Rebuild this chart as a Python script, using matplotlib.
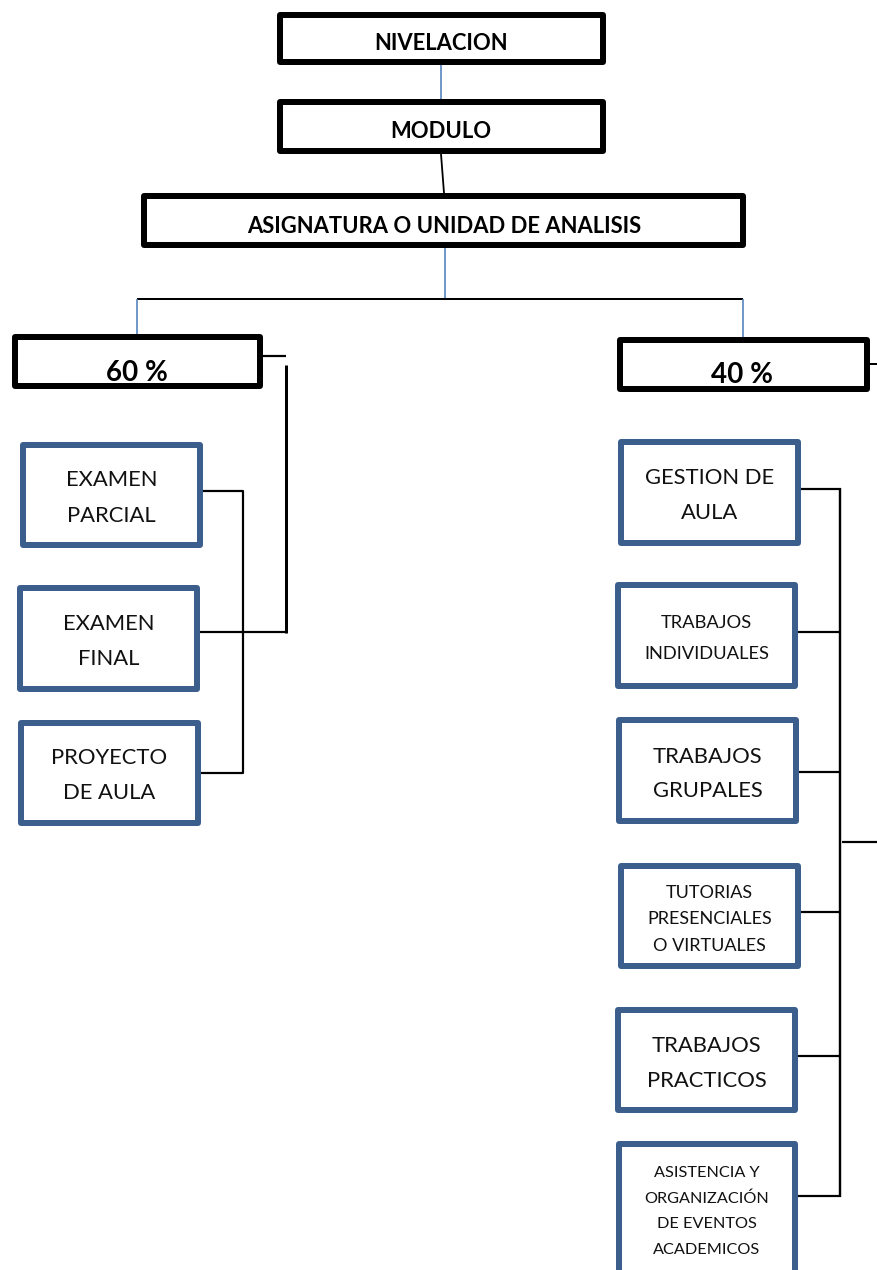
import matplotlib
matplotlib.use("Agg")
import matplotlib.pyplot as plt
from matplotlib.patches import Rectangle

plt.rcParams['font.family'] = ['Lato', 'DejaVu Sans']

# ---- content ----
header_labels = ["NIVELACION", "MODULO", "ASIGNATURA O UNIDAD DE ANALISIS"]
weight_labels = ["60 %", "40 %"]
left_labels = ["EXAMEN\nPARCIAL", "EXAMEN\nFINAL", "PROYECTO\nDE AULA"]
right_labels = ["GESTION DE\nAULA", "TRABAJOS\nINDIVIDUALES", "TRABAJOS\nGRUPALES",
                "TUTORIAS\nPRESENCIALES\nO VIRTUALES", "TRABAJOS\nPRACTICOS",
                "ASISTENCIA Y\nORGANIZACIÓN\nDE EVENTOS\nACADEMICOS"]

# ---- layout (pixel coords, y down) ----
W, H = 877, 1270
header_boxes = [(280, 15, 603, 62), (280, 102, 603, 151), (144, 196, 743, 245)]
header_text = [(441, 50), (441, 138), (444, 233)]
header_sizes = [15.8, 15.8, 15.8]
weight_boxes = [(15, 337, 260, 386), (620, 340, 867, 389)]
weight_text = [(137, 381), (742, 383)]

left_boxes = [(23, 445, 200, 545), (20, 588, 197, 689), (21, 723, 198, 823)]
left_first_base = [486, 630, 764]
left_sizes = [15.8, 15.8, 15.8]
left_spacing = [36, 35, 35]

right_boxes = [(621, 442, 798, 543), (618, 585, 795, 686), (619, 720, 796, 821),
               (621, 866, 798, 966), (618, 1010, 795, 1110), (619, 1144, 795, 1290)]
right_conn_y = [489, 632, 772, 912, 1056, 1196]
right_first_base = [484, 628, 763, 898, 1052, 1177]
right_sizes = [15.8, 13.2, 15.8, 13.0, 15.8, 11.7]
right_spacing = [35, 31, 34, 26.5, 35, 25.7]

BLACK = "#000000"
BOX_BLUE = "#3B5E8C"
LINE_BLUE = "#4F81BD"
PX = 0.72  # points per pixel at dpi 100

fig = plt.figure(figsize=(W / 100, H / 100), dpi=100)
ax = fig.add_axes([0, 0, 1, 1])
ax.set_xlim(0, W)
ax.set_ylim(H, 0)
ax.axis("off")


def box(b, color, lw_px=6):
    x0, y0, x1, y1 = b
    ax.add_patch(Rectangle((x0, y0), x1 - x0, y1 - y0, fill=True, facecolor="white",
                           edgecolor=color, linewidth=lw_px * PX, joinstyle="round", zorder=3))


def line(xs, ys, color=BLACK, lw_px=2.0):
    ax.plot(xs, ys, color=color, linewidth=lw_px * PX, solid_capstyle="butt", zorder=2)


# connectors
line([441, 441], [65, 99], LINE_BLUE, 1.6)
line([441, 444], [154, 193], BLACK, 1.8)
line([445, 445], [248, 299], LINE_BLUE, 1.6)
line([137, 743], [299, 299], BLACK, 2.0)
line([137, 137], [299, 334], LINE_BLUE, 1.6)
line([743, 743], [299, 337], LINE_BLUE, 1.6)
line([263, 286], [356, 356], BLACK, 2.2)
line([286, 286], [365, 633], BLACK, 3.0)
line([200, 287], [632, 632], BLACK, 2.2)
line([202, 243, 243, 200], [491, 491, 773, 773], BLACK, 2.2)
line([870, 877], [364, 364], BLACK, 2.0)
line([840, 840], [488, 1197], BLACK, 2.4)
for b, yc in zip(right_boxes, right_conn_y):
    line([b[2] + 3, 841], [yc, yc], BLACK, 2.2)
line([842, 877], [842, 842], BLACK, 2.2)

# header boxes
for b, lab, (tx, ty), fs in zip(header_boxes, header_labels, header_text, header_sizes):
    box(b, BLACK)
    ax.text(tx, ty, lab, ha="center", va="baseline", fontsize=fs,
            fontweight="bold", color=BLACK, zorder=4)

for b, lab, (tx, ty) in zip(weight_boxes, weight_labels, weight_text):
    box(b, BLACK)
    ax.text(tx, ty, lab, ha="center", va="baseline", fontsize=20,
            fontweight="bold", color=BLACK, zorder=4)


def blue_boxes(boxes, labels, bases, sizes, spacings):
    for b, lab, base, fs, sp in zip(boxes, labels, bases, sizes, spacings):
        box(b, BOX_BLUE)
        cx = (b[0] + b[2]) / 2
        for i, ln in enumerate(lab.split("\n")):
            ax.text(cx, base + i * sp, ln, ha="center", va="baseline", fontsize=fs,
                    color="#111111", zorder=4)


blue_boxes(left_boxes, left_labels, left_first_base, left_sizes, left_spacing)
blue_boxes(right_boxes, right_labels, right_first_base, right_sizes, right_spacing)

fig.savefig("out.png", dpi=100, facecolor="white")
